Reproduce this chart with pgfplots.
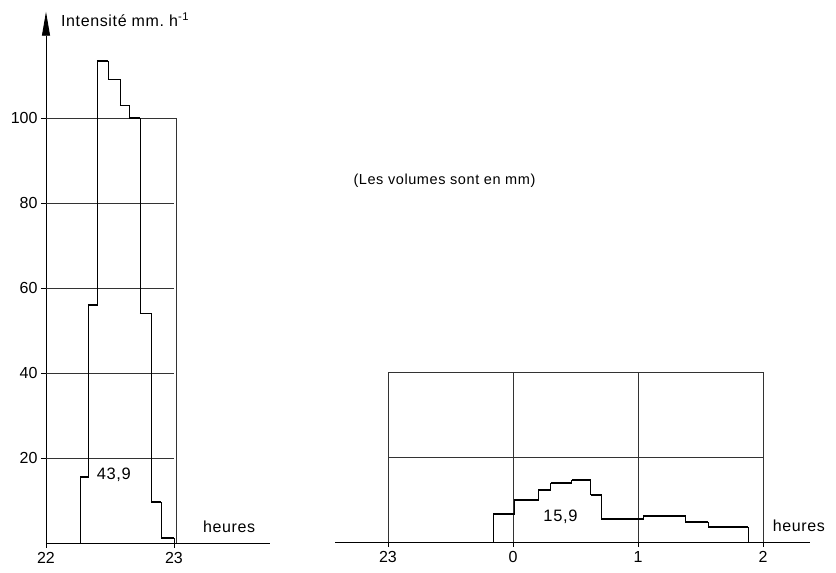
\documentclass[border=0pt]{standalone}
\usepackage{fontspec}
\setmainfont{Liberation Sans}
\usepackage{pgfplots}
\pgfplotsset{compat=1.18}
\usetikzlibrary{arrows.meta}

% Left histogram: x = hour, y = intensity (mm/h)
\pgfplotstableread{
x y
22.266 0
22.266 15.5
22.328 56
22.398 113.4
22.484 109
22.578 103
22.648 100
22.734 54
22.820 9.6
22.898 1.2
23.000 0
}\leftdata

% Right histogram: x = hours after midnight (negative = before)
\pgfplotstableread{
x y
-0.16 0
-0.16 6.6
0.01 9.9
0.20 12.2
0.30 13.9
0.47 14.6
0.62 11.1
0.71 5.4
1.04 6.1
1.38 4.7
1.56 3.5
1.88 0
}\rightdata

\newfontfamily\spaced[LetterSpace=4]{Liberation Sans}

\begin{document}
\begin{tikzpicture}[x=1pt,y=1pt]
\useasboundingbox (0,0) rectangle (836,573);

\begin{axis}[
  at={(46pt,30pt)}, anchor=south west,
  x=128pt, y=4.25pt,
  xmin=22, xmax=23.75, ymin=0, ymax=125,
  axis x line=bottom, axis y line=left,
  x axis line style={-, line width=0.9pt},
  y axis line style={-{Stealth[length=24pt,width=8pt,inset=0pt]}, line width=0.9pt},
  xtick={22,23}, ytick={20,40,60,80,100},
  tick align=outside, major tick length=5pt,
  tick style={black, line width=0.8pt},
  /pgf/number format/assume math mode=true,
  ticklabel style={font=\fontsize{16}{18}\selectfont},
  xticklabel style={yshift=-1pt},
  clip=false,
]
% partial grid
\addplot[forget plot, black!80, line width=0.7pt] coordinates {(22,20) (23,20)};
\addplot[forget plot, black!80, line width=0.7pt] coordinates {(22,40) (23,40)};
\addplot[forget plot, black!80, line width=0.7pt] coordinates {(22,60) (23,60)};
\addplot[forget plot, black!80, line width=0.7pt] coordinates {(22,80) (23,80)};
\addplot[forget plot, black!80, line width=0.7pt] coordinates {(22,100) (23.016,100)};
\addplot[forget plot, black!80, line width=0.7pt] coordinates {(23.016,0) (23.016,100)};
% histogram: thin verticals, thicker tops
\addplot[const plot, black, line width=0.7pt] table[x=x,y=y] {\leftdata};
\addplot[jump mark left, black, line width=1.4pt] table[x=x,y=y] {\leftdata};
\node[font=\spaced\fontsize{16.5}{18}\selectfont] at (axis cs:22.53,16) {43,9};
\node[font=\spaced\fontsize{16}{18}\selectfont, anchor=west] at (axis cs:23.2,3.9) {heures};
\node[font=\spaced\fontsize{16}{18}\selectfont, anchor=west] at (axis cs:22.09,123.2) {Intensité mm.\ h\textsuperscript{-1}};
\end{axis}

\begin{axis}[
  at={(335pt,31pt)}, anchor=south west,
  x=125pt, y=4.25pt,
  xmin=-1.424, xmax=2.376, ymin=0, ymax=40,
  axis x line=bottom, axis y line=none,
  x axis line style={-, line width=0.9pt},
  xtick={-1,0,1,2}, xticklabels={23,0,1,2},
  tick align=outside, major tick length=5pt,
  tick style={black, line width=0.8pt},
  /pgf/number format/assume math mode=true,
  ticklabel style={font=\fontsize{16}{18}\selectfont},
  xticklabel style={yshift=-1pt},
  clip=false,
]
\addplot[forget plot, black!80, line width=0.7pt] coordinates {(-1,20) (2,20)};
\addplot[forget plot, black!80, line width=0.7pt] coordinates {(-1,40) (2,40)};
\addplot[forget plot, black!80, line width=0.7pt] coordinates {(-1,0) (-1,40)};
\addplot[forget plot, black!80, line width=0.7pt] coordinates {(0,0) (0,40)};
\addplot[forget plot, black!80, line width=0.7pt] coordinates {(1,0) (1,40)};
\addplot[forget plot, black!80, line width=0.7pt] coordinates {(2,0) (2,40)};
\addplot[const plot, black, line width=0.7pt] table[x=x,y=y] {\rightdata};
\addplot[jump mark left, black, line width=1.4pt] table[x=x,y=y] {\rightdata};
\node[font=\spaced\fontsize{16.5}{18}\selectfont] at (axis cs:0.38,6) {15,9};
\node[font=\spaced\fontsize{16}{18}\selectfont, anchor=west] at (axis cs:2.05,3.8) {heures};
\end{axis}

\node[font=\spaced\fontsize{14.5}{16}\selectfont, anchor=west] at (350,392) {(Les volumes sont en mm)};
\end{tikzpicture}
\end{document}
